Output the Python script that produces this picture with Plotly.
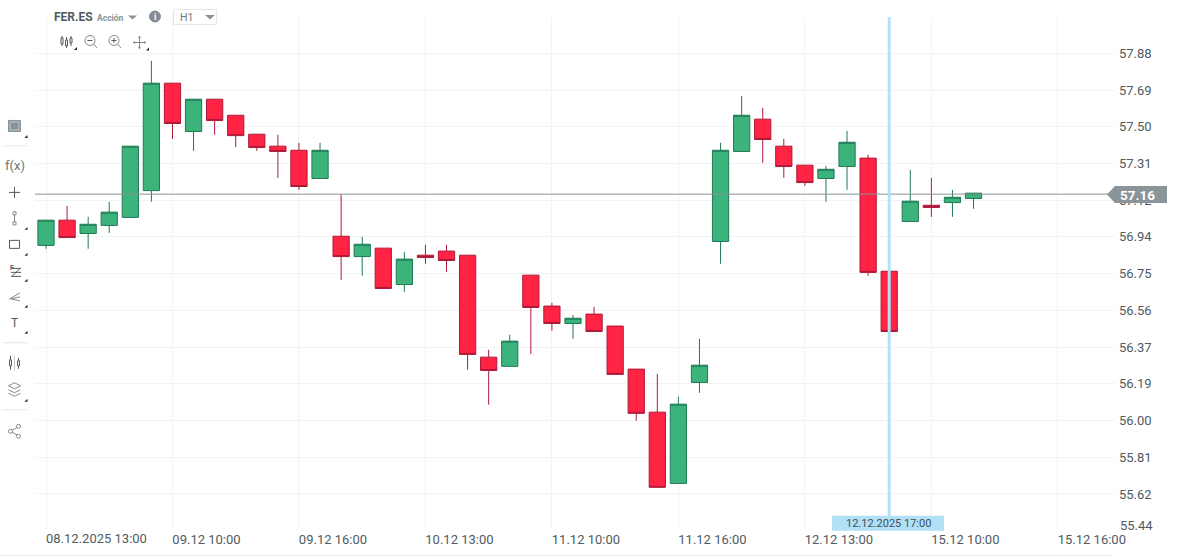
import plotly.graph_objects as go

W, H = 1178, 557
PL, PR, PT, PB = 35, 1115, 17, 530.3

# ---- data ----
candle_index = list(range(45))
open_values = [56.898, 57.027, 56.959, 57.000, 57.041, 57.178, 57.727, 57.480, 57.645, 57.563, 57.466, 57.405, 57.384, 57.240, 56.945,
               56.841, 56.884, 56.698, 56.848, 56.869, 56.848, 56.327, 56.280, 56.746, 56.588, 56.499, 56.547, 56.486, 56.266, 56.046,
               55.682, 56.198, 56.918, 57.378, 57.543, 57.405, 57.308, 57.240, 57.301, 57.344, 56.766, 57.020, 57.103, 57.117, 57.138]
high_values = [57.027, 57.100, 57.044, 57.121, 57.405, 57.841, 57.727, 57.645, 57.645, 57.563, 57.466, 57.463, 57.422, 57.422, 57.158,
               56.942, 56.884, 56.865, 56.901, 56.901, 56.848, 56.365, 56.441, 56.746, 56.605, 56.543, 56.584, 56.486, 56.266, 56.242,
               56.125, 56.421, 57.422, 57.662, 57.601, 57.442, 57.308, 57.304, 57.483, 57.361, 56.766, 57.284, 57.243, 57.182, 57.165]
low_values = [56.881, 56.938, 56.881, 56.962, 57.041, 57.121, 57.442, 57.381, 57.463, 57.401, 57.381, 57.243, 57.182, 57.240, 56.722,
              56.743, 56.678, 56.661, 56.804, 56.763, 56.263, 56.084, 56.280, 56.344, 56.462, 56.421, 56.458, 56.239, 56.002, 55.662,
              55.682, 56.145, 56.804, 57.378, 57.320, 57.243, 57.202, 57.121, 57.182, 56.743, 56.458, 57.020, 57.044, 57.044, 57.085]
close_values = [57.027, 56.938, 57.006, 57.068, 57.405, 57.727, 57.521, 57.645, 57.536, 57.459, 57.398, 57.378, 57.199, 57.384, 56.841,
                56.904, 56.678, 56.828, 56.836, 56.821, 56.341, 56.259, 56.409, 56.581, 56.499, 56.526, 56.458, 56.239, 56.040, 55.662,
                56.087, 56.286, 57.384, 57.563, 57.439, 57.301, 57.219, 57.287, 57.425, 56.760, 56.458, 57.124, 57.092, 57.144, 57.165]

x_tick_index = [0, 6, 12, 18, 24, 30, 36, 42, 48]
x_tick_labels = ["", "09.12 10:00", "09.12 16:00", "10.12 13:00", "11.12 10:00",
                 "11.12 16:00", "12.12 13:00", "15.12 10:00", "15.12 16:00"]
first_x_label = "08.12.2025 13:00"
y_tick_values = [57.88, 57.692, 57.505, 57.317, 57.129, 56.942, 56.754, 56.566, 56.378, 56.191, 56.003, 55.815, 55.628, 55.44]
y_tick_labels = ["57.88", "57.69", "57.50", "57.31", "57.12", "56.94", "56.75", "56.56", "56.37", "56.19", "56.00", "55.81", "55.62", ""]
last_y_label = "55.44"
current_price = 57.16
current_price_label = "57.16"
cursor_index = 40
cursor_label = "12.12.2025 17:00"

# ---- pixel helpers for chrome (toolbars, tags) ----
def fx(x):
    return (x - PL) / (PR - PL)

def fy(y):
    return 1 - (y - PT) / (PB - PT)

shapes = []
annots = []
INK = "#4f5b62"
GREY = "#7f8a90"

def line(x0, y0, x1, y1, color=INK, w=1):
    shapes.append(dict(type="line", xref="paper", yref="paper", x0=fx(x0), y0=fy(y0), x1=fx(x1), y1=fy(y1),
                       line=dict(color=color, width=w), layer="above"))

def rect(x0, y0, x1, y1, fill=None, color=INK, w=1, layer="above"):
    shapes.append(dict(type="rect", xref="paper", yref="paper", x0=fx(x0), y0=fy(y0), x1=fx(x1), y1=fy(y1),
                       fillcolor=fill or "rgba(0,0,0,0)", line=dict(color=color, width=w), layer=layer))

def circle(cx, cy, r, fill=None, color=INK, w=1):
    shapes.append(dict(type="circle", xref="paper", yref="paper", x0=fx(cx - r), y0=fy(cy - r), x1=fx(cx + r), y1=fy(cy + r),
                       fillcolor=fill or "rgba(0,0,0,0)", line=dict(color=color, width=w), layer="above"))

def poly(points, fill, color=None, w=0):
    d = "M" + " L".join(f"{fx(px):.5f},{fy(py):.5f}" for px, py in points) + " Z"
    shapes.append(dict(type="path", xref="paper", yref="paper", path=d, fillcolor=fill,
                       line=dict(color=color or fill, width=w), layer="above"))

def text(x, y, s, size=13, color=INK, anchor="left", bold=False, family="Roboto"):
    annots.append(dict(xref="paper", yref="paper", x=fx(x), y=fy(y), text=f"<b>{s}</b>" if bold else s, showarrow=False,
                       xanchor=anchor, yanchor="middle", xshift=0, borderpad=0,
                       font=dict(family=family, size=size, color=color)))

def corner(x, y):
    poly([(x + 3, y - 3), (x + 3, y), (x, y)], "#222222")

# top header
rect(35, 17, 172, 30, fill="#ffffff", color="#ffffff", w=0, layer="between")
text(52.5, 17.5, "FER.ES", size=12, color=INK, bold=True)
text(95.5, 18, "Acción", size=8.5, color="#8a9297", bold=True)
poly([(128, 15.5), (137, 15.5), (132.5, 19.5)], "#8a9297")
circle(155, 16.5, 5.5, fill="#868c90", color="#868c90")
text(155, 16.5, "i", size=9, color="#ffffff", anchor="center", bold=True)
rect(173.5, 9.5, 216.5, 24.5, fill="#ffffff", color="#e4e6e7", w=1)
text(178.5, 17.5, "H1", size=10.5, color="#6f787d")
poly([(205, 15), (215, 15), (210, 19.5)], "#8a9297")

# chart toolbar
for cx, y0, y1, b0, b1 in [(62, 36, 46, 38, 44), (66.5, 37, 48, 40, 46), (71, 36, 46, 38, 43)]:
    line(cx, y0, cx, y1)
    rect(cx - 1, b0, cx + 1, b1, fill="#ffffff")
corner(74, 50)
circle(90, 40.5, 5, color=GREY)
line(87.5, 40.5, 92.5, 40.5)
line(93.5, 44, 97, 48, color=GREY)
circle(114, 40.5, 5, color=GREY)
line(111.5, 40.5, 116.5, 40.5)
line(114, 38, 114, 43)
line(117.5, 44, 121, 48, color=GREY)
line(133, 42.5, 146, 42.5, color=GREY)
line(139.5, 36, 139.5, 49, color=GREY)
poly([(133, 42.5), (135, 41), (135, 44)], GREY)
poly([(146, 42.5), (144, 41), (144, 44)], GREY)
poly([(139.5, 36), (138, 38), (141, 38)], GREY)
poly([(139.5, 49), (138, 47), (141, 47)], GREY)
corner(146, 50.5)

# left toolbar
rect(8.5, 120.5, 20.5, 131.5, fill="#87929a", color="#87929a", w=1)
shapes[-1]["fillcolor"] = "#87929a"
rect(10, 122, 19, 130, fill="#87929a", color="#ffffff", w=0.5)
for y in [146, 343, 410]:
    line(3, y, 27, y, color="#e3e5e6", w=1)
text(15, 166, "f(x)", size=13, color="#6a747a", anchor="center")
line(9, 192.5, 20, 192.5)
line(14.5, 187, 14.5, 198)
line(14.5, 215, 14.5, 222, color=GREY)
rect(13, 212, 16, 215, fill="#ffffff", color=GREY)
rect(13, 222, 16, 225, fill="#ffffff", color=GREY)
rect(9.5, 240.5, 19.5, 248.5)
text(9, 268, "F", size=7, color=INK, bold=True)
line(12, 268.5, 21, 268.5)
line(11, 276.5, 21, 276.5)
line(11, 272.5, 21, 272.5)
line(12, 276.5, 20, 268.5)
line(9, 299.5, 20, 293, color=GREY)
line(11, 299, 20, 297, color=GREY)
line(11, 299, 20, 301, color=GREY)
text(14.5, 323, "T", size=12, color=INK, anchor="center")
line(10.5, 356, 10.5, 370, color=INK)
rect(9.5, 360, 11.5, 366, fill="#ffffff")
line(14.5, 356, 14.5, 371, color="#c6cbce")
line(18.5, 358, 18.5, 369, color=INK)
rect(17.5, 361, 19.5, 366, fill="#ffffff")
poly([(8.5, 386), (14.5, 383), (20.5, 386), (14.5, 389)], "#ffffff", GREY, 1)
line(8.5, 390, 14.5, 393, color=GREY)
line(14.5, 393, 20.5, 390, color=GREY)
line(8.5, 393.5, 14.5, 396.5, color=GREY)
line(14.5, 396.5, 20.5, 393.5, color=GREY)
line(10.5, 431.5, 18.5, 427, color=GREY)
line(10.5, 431.5, 18.5, 436, color=GREY)
circle(10.5, 431.5, 2, fill="#ffffff", color=GREY)
circle(18.5, 426.5, 2, fill="#ffffff", color=GREY)
circle(18.5, 436.5, 2, fill="#ffffff", color=GREY)
for y in [138, 230, 256, 282, 308, 334, 402]:
    corner(24.5, y)

# bottom rule
line(0, 556, 1112, 556, color="#e8eaeb", w=1)

# current price line and tag (positioned from the value through the axis)
shapes.append(dict(type="line", xref="paper", yref="y", x0=0, x1=fx(1108), y0=current_price, y1=current_price,
                   line=dict(color="#87939a", width=1), layer="above"))
poly([(1107, 194.5), (1115, 186), (1167, 186), (1167, 203), (1115, 203)], "#8a9499")
text(1119, 194.8, current_price_label, size=13.5, color="#ffffff", bold=True)

# crosshair cursor
shapes.append(dict(type="line", xref="x", yref="paper", x0=cursor_index, x1=cursor_index, y0=fy(516), y1=1,
                   line=dict(color="#b3e1f8", width=3), layer="above"))
rect(832, 516, 944, 531, fill="#b1e0f7", color="#b1e0f7", w=0)
text(888.5, 524, cursor_label, size=11, color="#41505a", anchor="center")

# axis labels that sit away from their tick
annots.append(dict(xref="x", yref="paper", x=x_tick_index[0], xshift=-1, y=fy(538.5), text=first_x_label, showarrow=False, xanchor="left",
                   yanchor="middle", borderpad=0, font=dict(family="Roboto", size=13, color=INK)))
text(1119, 526, last_y_label, size=13, color=INK)

fig = go.Figure(go.Candlestick(
    x=candle_index, open=open_values, high=high_values, low=low_values, close=close_values,
    increasing=dict(line=dict(color="#1f7a56", width=1), fillcolor="#3cb37a"),
    decreasing=dict(line=dict(color="#ad1a38", width=1), fillcolor="#ff2344"),
    whiskerwidth=0, hoverinfo="skip", showlegend=False,
))

fig.update_layout(
    width=W, height=H, autosize=False,
    margin=dict(l=PL, r=W - PR, t=PT, b=H - PB, pad=0),
    paper_bgcolor="#ffffff", plot_bgcolor="#ffffff",
    boxgap=0.23, boxgroupgap=0, hovermode=False, showlegend=False,
    font=dict(family="Roboto", size=13, color=INK),
    shapes=shapes, annotations=annots,
    xaxis=dict(range=[(PL - 46) / 21.08, (PR - 46) / 21.08], tickmode="array", tickvals=x_tick_index, ticktext=x_tick_labels,
               showgrid=True, gridcolor="#f2f3f4", gridwidth=1, zeroline=False, showline=False, ticks="", automargin=False,
               rangeslider=dict(visible=False), ticklabelshift=34, ticklabelstandoff=0,
               tickfont=dict(family="Roboto", size=13, color=INK)),
    yaxis=dict(range=[55.444, 58.065], side="right", tickmode="array", tickvals=y_tick_values, ticktext=y_tick_labels,
               showgrid=True, gridcolor="#f2f3f4", gridwidth=1, zeroline=False, showline=False, ticks="", automargin=False,
               ticklabelstandoff=3, tickfont=dict(family="Roboto", size=13, color=INK)),
)

fig.write_html("out.html", config=dict(displayModeBar=False, responsive=False),
               post_script="document.body.style.margin='0';document.documentElement.style.overflow='hidden';")
